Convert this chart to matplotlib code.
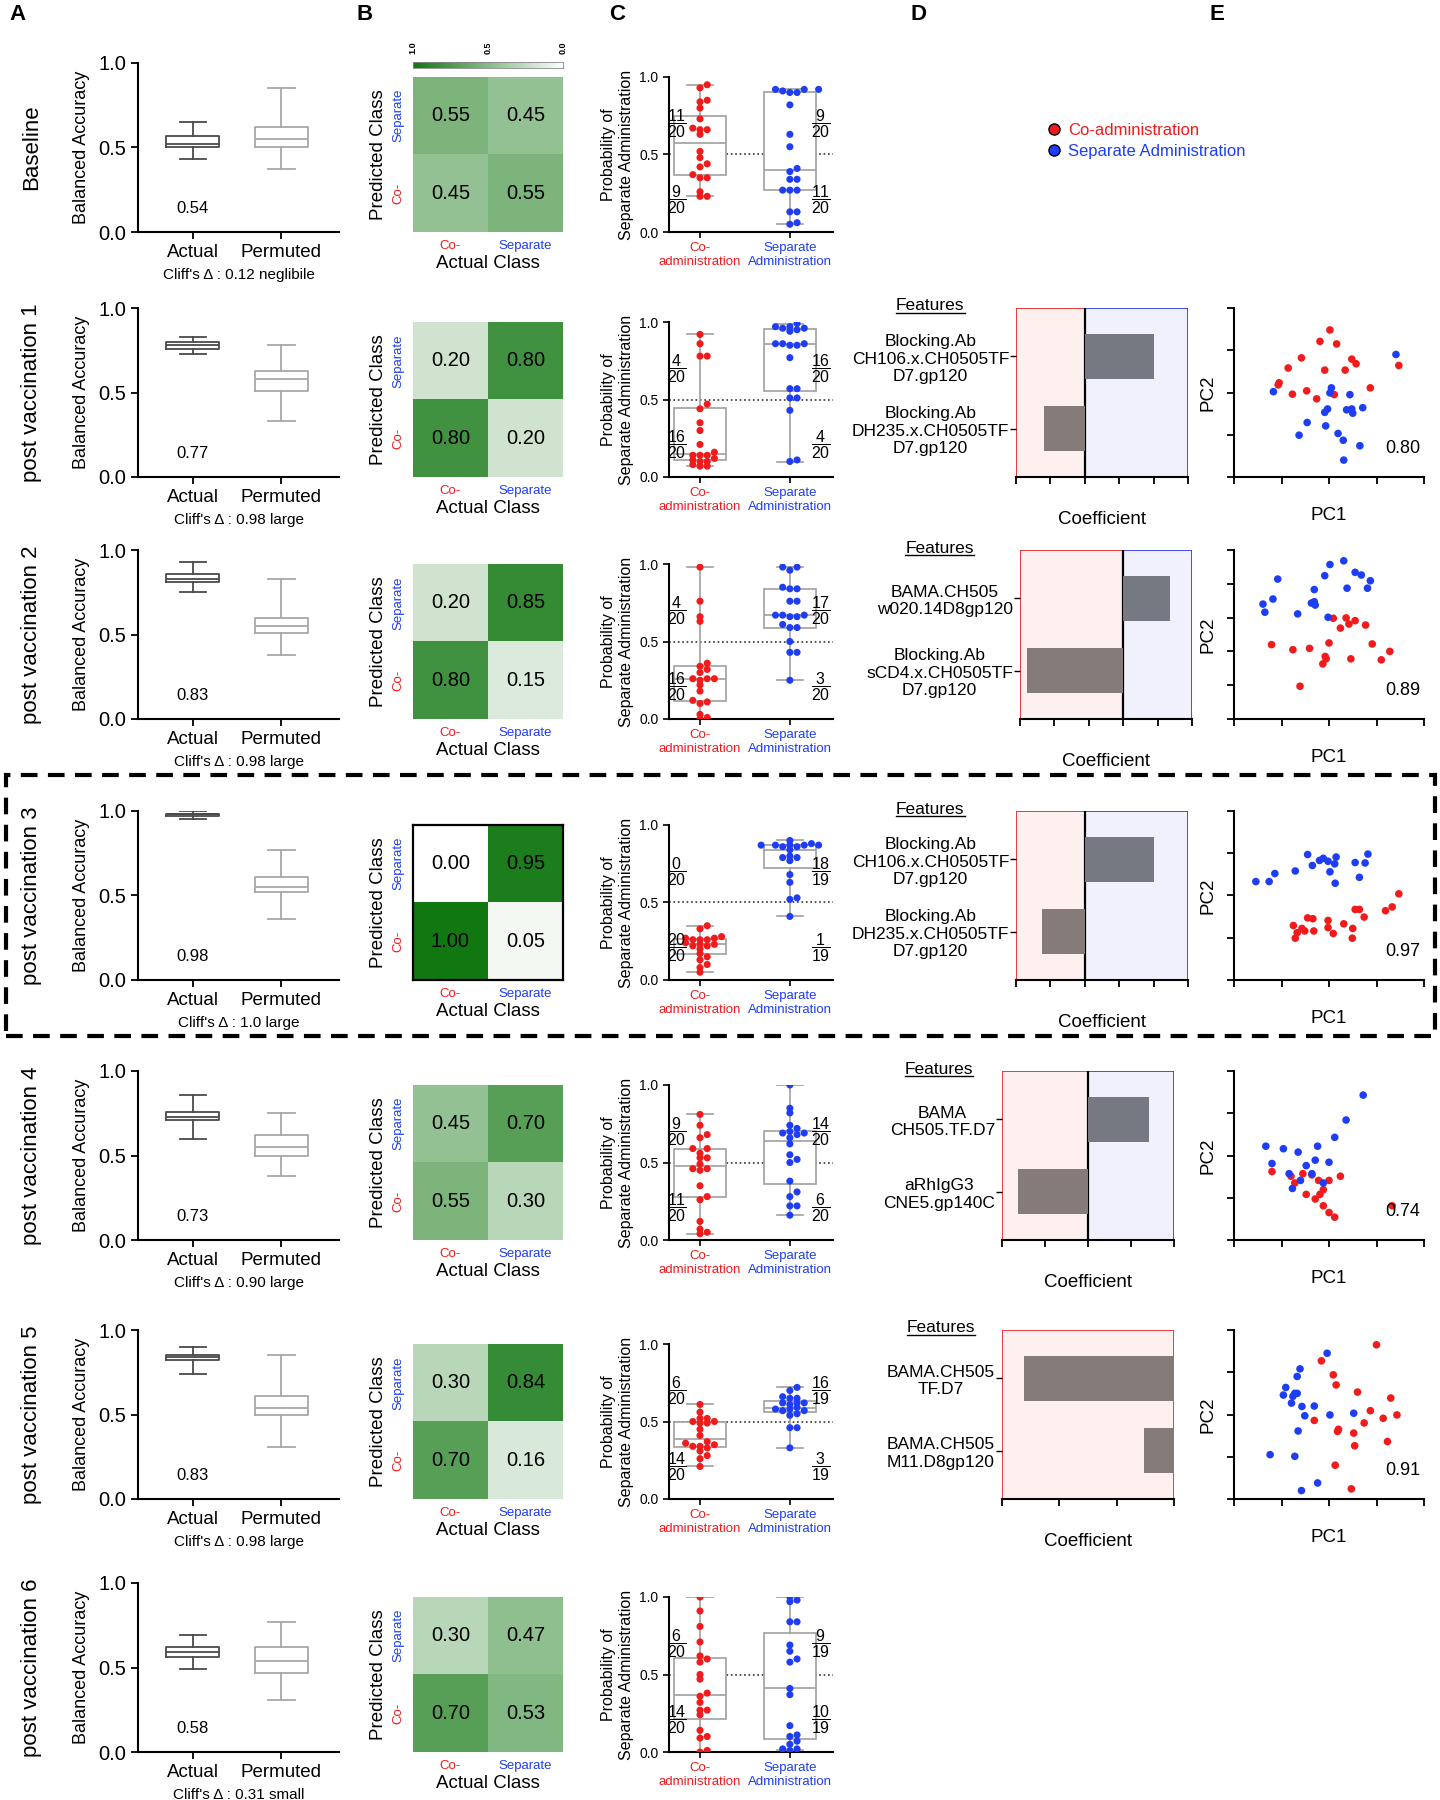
import numpy as np
import matplotlib
matplotlib.use('Agg')
import matplotlib.pyplot as plt
from matplotlib.colors import LinearSegmentedColormap
from matplotlib.lines import Line2D
from matplotlib.patches import Rectangle

plt.rcParams['font.family'] = ['Liberation Sans', 'DejaVu Sans']
plt.rcParams['mathtext.fontset'] = 'custom'
plt.rcParams['mathtext.rm'] = 'Liberation Sans'
plt.rcParams['mathtext.default'] = 'regular'

RED = '#f21b1b'
BLUE = '#1e3ef5'

# ---------------- data ----------------
row_names = ['Baseline', 'post vaccination 1', 'post vaccination 2', 'post vaccination 3',
             'post vaccination 4', 'post vaccination 5', 'post vaccination 6']

# A: balanced accuracy boxes (whislo, q1, med, q3, whishi)
actual_box = [(0.43, 0.50, 0.52, 0.57, 0.65),
              (0.73, 0.76, 0.78, 0.80, 0.83),
              (0.75, 0.81, 0.83, 0.86, 0.93),
              (0.95, 0.97, 0.98, 0.98, 1.00),
              (0.60, 0.71, 0.73, 0.76, 0.86),
              (0.74, 0.82, 0.84, 0.85, 0.90),
              (0.49, 0.56, 0.59, 0.62, 0.69)]
permuted_box = [(0.37, 0.50, 0.55, 0.62, 0.85),
                (0.33, 0.51, 0.58, 0.63, 0.78),
                (0.38, 0.51, 0.55, 0.60, 0.83),
                (0.36, 0.52, 0.55, 0.61, 0.77),
                (0.38, 0.50, 0.55, 0.62, 0.75),
                (0.31, 0.50, 0.54, 0.61, 0.85),
                (0.31, 0.47, 0.54, 0.62, 0.77)]
median_text = ['0.54', '0.77', '0.83', '0.98', '0.73', '0.83', '0.58']
cliffs = ['0.12 neglibile', '0.98 large', '0.98 large', '1.0 large', '0.90 large', '0.98 large', '0.31 small']

# B: confusion matrices, rows = predicted (Separate, Co-), cols = actual (Co-, Separate)
conf = [[[0.55, 0.45], [0.45, 0.55]],
        [[0.20, 0.80], [0.80, 0.20]],
        [[0.20, 0.85], [0.80, 0.15]],
        [[0.00, 0.95], [1.00, 0.05]],
        [[0.45, 0.70], [0.55, 0.30]],
        [[0.30, 0.84], [0.70, 0.16]],
        [[0.30, 0.47], [0.70, 0.53]]]

# C: probability of separate administration
co_probs = [
    [0.95, 0.93, 0.85, 0.84, 0.80, 0.73, 0.67, 0.66, 0.66, 0.63, 0.52, 0.48, 0.44, 0.42, 0.37, 0.35, 0.35, 0.26, 0.23, 0.23],
    [0.92, 0.86, 0.78, 0.78, 0.47, 0.44, 0.35, 0.30, 0.21, 0.16, 0.14, 0.14, 0.14, 0.12, 0.11, 0.10, 0.10, 0.08, 0.07, 0.07],
    [0.98, 0.76, 0.66, 0.63, 0.36, 0.34, 0.32, 0.30, 0.26, 0.26, 0.26, 0.25, 0.22, 0.18, 0.12, 0.11, 0.10, 0.03, 0.01, 0.00],
    [0.35, 0.33, 0.28, 0.27, 0.27, 0.26, 0.26, 0.26, 0.24, 0.23, 0.23, 0.22, 0.22, 0.20, 0.17, 0.15, 0.13, 0.10, 0.08, 0.05],
    [0.81, 0.74, 0.68, 0.66, 0.59, 0.59, 0.56, 0.53, 0.53, 0.49, 0.46, 0.46, 0.45, 0.35, 0.28, 0.26, 0.12, 0.07, 0.05, 0.04],
    [0.61, 0.56, 0.52, 0.52, 0.50, 0.50, 0.49, 0.49, 0.45, 0.41, 0.37, 0.36, 0.35, 0.34, 0.34, 0.33, 0.31, 0.28, 0.26, 0.21],
    [1.00, 0.91, 0.81, 0.71, 0.62, 0.60, 0.58, 0.50, 0.47, 0.38, 0.36, 0.32, 0.27, 0.27, 0.24, 0.14, 0.10, 0.09, 0.01, 0.00],
]
sep_probs = [
    [0.92, 0.92, 0.92, 0.91, 0.90, 0.90, 0.82, 0.63, 0.55, 0.41, 0.39, 0.34, 0.34, 0.27, 0.27, 0.27, 0.13, 0.13, 0.06, 0.05],
    [0.99, 0.97, 0.97, 0.96, 0.96, 0.95, 0.94, 0.86, 0.86, 0.86, 0.85, 0.85, 0.77, 0.57, 0.57, 0.51, 0.51, 0.43, 0.11, 0.10],
    [0.98, 0.98, 0.96, 0.85, 0.84, 0.84, 0.76, 0.76, 0.67, 0.67, 0.67, 0.66, 0.66, 0.61, 0.59, 0.59, 0.50, 0.43, 0.43, 0.25],
    [0.90, 0.88, 0.87, 0.87, 0.87, 0.87, 0.87, 0.86, 0.86, 0.84, 0.80, 0.79, 0.79, 0.77, 0.68, 0.63, 0.53, 0.52, 0.41],
    [1.00, 0.85, 0.82, 0.74, 0.72, 0.70, 0.69, 0.69, 0.68, 0.66, 0.62, 0.55, 0.52, 0.50, 0.38, 0.31, 0.28, 0.22, 0.22, 0.16],
    [0.72, 0.70, 0.66, 0.65, 0.65, 0.62, 0.62, 0.62, 0.61, 0.59, 0.58, 0.58, 0.57, 0.57, 0.55, 0.54, 0.46, 0.46, 0.33],
    [1.00, 0.98, 0.97, 0.84, 0.84, 0.69, 0.65, 0.60, 0.58, 0.41, 0.37, 0.17, 0.11, 0.10, 0.07, 0.05, 0.02, 0.02, 0.01],
]
# fractions: (top numerator, top denominator, bottom numerator, bottom denominator)
co_frac = [('11', '20', '9', '20'), ('4', '20', '16', '20'), ('4', '20', '16', '20'), ('0', '20', '20', '20'),
           ('9', '20', '11', '20'), ('6', '20', '14', '20'), ('6', '20', '14', '20')]
sep_frac = [('9', '20', '11', '20'), ('16', '20', '4', '20'), ('17', '20', '3', '20'), ('18', '19', '1', '19'),
            ('14', '20', '6', '20'), ('16', '19', '3', '19'), ('9', '19', '10', '19')]

# D: top features and coefficients (rows 1-5)
feat_top = ['Blocking.Ab\nCH106.x.CH0505TF\nD7.gp120', 'BAMA.CH505\nw020.14D8gp120',
            'Blocking.Ab\nCH106.x.CH0505TF\nD7.gp120', 'BAMA\nCH505.TF.D7', 'BAMA.CH505\nTF.D7']
feat_bottom = ['Blocking.Ab\nDH235.x.CH0505TF\nD7.gp120', 'Blocking.Ab\nsCD4.x.CH0505TF\nD7.gp120',
               'Blocking.Ab\nDH235.x.CH0505TF\nD7.gp120', 'aRhIgG3\nCNE5.gp140C', 'BAMA.CH505\nM11.D8gp120']
coef_top = [2.0, 1.37, 2.0, 1.43, -2.62]
coef_bottom = [-1.2, -2.79, -1.24, -1.63, -0.53]
coef_lim = [(-2, 3), (-3, 2), (-2, 3), (-2, 2), (-3, 0)]

# E: PCA scores (PC1, PC2)
pc_co = [
    np.array([(2.02, 3.48), (1.81, 3.21), (2.16, 3.15), (1.42, 2.82), (2.48, 2.79), (2.57, 2.68), (1.14, 2.58),
              (1.91, 2.53), (2.34, 2.53), (3.47, 2.64), (0.95, 2.23), (0.93, 2.18), (2.87, 2.11), (1.53, 2.04),
              (1.23, 1.96), (1.74, 1.85), (2.11, 1.95)]),
    np.array([(2.09, 2.98), (2.36, 2.99), (2.55, 2.91), (2.42, 2.81), (2.77, 2.78), (2.24, 2.69), (0.79, 2.20),
              (1.24, 2.05), (1.59, 2.09), (2.00, 2.25), (2.91, 2.22), (3.28, 2.00), (3.10, 1.75), (1.92, 1.85),
              (1.94, 1.78), (1.87, 1.63), (2.46, 1.78), (1.39, 0.97)]),
    np.array([(3.47, 2.04), (3.33, 1.73), (3.19, 1.64), (2.55, 1.67), (2.64, 1.67), (2.74, 1.49), (1.55, 1.47),
              (1.66, 1.45), (1.98, 1.41), (2.31, 1.33), (1.25, 1.29), (1.43, 1.22), (1.49, 1.16), (1.68, 1.16),
              (1.98, 1.24), (1.33, 1.12), (1.29, 0.99), (2.09, 1.10), (2.50, 1.22), (2.49, 0.99)]),
    np.array([(0.80, 1.62), (1.20, 1.51), (1.45, 1.57), (1.64, 1.54), (1.78, 1.41), (2.00, 1.41), (2.24, 1.51),
              (1.52, 1.08), (1.71, 0.97), (1.88, 0.81), (2.00, 0.65), (2.12, 0.54), (3.33, 0.81), (1.81, 1.08),
              (1.28, 1.35), (1.88, 1.19)]),
    np.array([(3.00, 3.65), (1.84, 3.27), (2.09, 2.94), (2.15, 2.70), (2.60, 2.53), (3.30, 2.39), (2.87, 2.09),
              (3.43, 1.99), (3.14, 1.91), (2.74, 1.80), (1.69, 1.86), (2.20, 1.65), (2.18, 1.60), (2.52, 1.56),
              (3.23, 1.36), (2.54, 1.26), (2.13, 0.80), (2.47, 0.24)]),
]
pc_sep = [
    np.array([(3.41, 2.90), (0.83, 2.02), (2.05, 2.11), (2.02, 1.99), (2.44, 1.95), (1.97, 1.61), (1.91, 1.53),
              (2.37, 1.59), (2.48, 1.61), (2.50, 1.51), (2.71, 1.64), (1.54, 1.29), (1.93, 1.21), (1.37, 0.99),
              (2.19, 1.03), (2.30, 0.87), (2.65, 0.74), (2.31, 0.40)]),
    np.array([(2.31, 4.68), (2.02, 4.57), (2.55, 4.34), (2.68, 4.26), (2.87, 4.09), (1.91, 4.24), (0.92, 4.14),
              (1.69, 3.83), (2.38, 3.87), (2.81, 3.87), (0.82, 3.55), (0.61, 3.40), (0.65, 3.16), (1.63, 3.43),
              (1.69, 3.47), (1.71, 3.37), (1.34, 3.11), (1.98, 3.01)]),
    np.array([(1.55, 2.97), (1.80, 2.83), (1.88, 2.88), (1.98, 2.81), (2.15, 2.91), (2.12, 2.75), (2.82, 2.98),
              (2.76, 2.77), (2.55, 2.78), (1.65, 2.71), (1.29, 2.58), (0.86, 2.52), (0.74, 2.33), (0.46, 2.33),
              (2.02, 2.56), (2.13, 2.29), (2.64, 2.43)]),
    np.array([(2.72, 3.43), (2.36, 2.84), (2.12, 2.43), (0.67, 2.22), (1.04, 2.16), (1.35, 2.08), (1.76, 2.22),
              (1.52, 1.76), (1.16, 1.57), (1.64, 1.57), (1.88, 1.35), (1.23, 1.22), (1.71, 1.89), (0.80, 1.81),
              (2.00, 1.84), (1.40, 1.41)]),
    np.array([(1.96, 3.45), (1.39, 3.08), (1.33, 2.90), (1.09, 2.64), (1.04, 2.46), (1.28, 2.50), (1.33, 2.50),
              (1.24, 2.43), (1.21, 2.27), (1.43, 2.19), (1.69, 2.20), (1.49, 1.97), (2.02, 1.99), (2.52, 2.03),
              (1.35, 1.61), (0.76, 1.05), (1.28, 1.01), (1.76, 0.38), (1.42, 0.20)]),
]
pc_ylim = [4, 5, 4, 4, 4]
pc_score = ['0.80', '0.89', '0.97', '0.74', '0.91']

# ---------------- layout ----------------
W, H = 1440, 1800
fig = plt.figure(figsize=(14.4, 18), dpi=100)


def px_axes(left, top, width, height):
    return fig.add_axes([left / W, 1 - (top + height) / H, width / W, height / H])


row_top = [63, 308, 550, 811, 1071, 1330, 1583]
row_h = 169
inner_h = 155
d_left = [1016, 1020, 1016, 1002, 1002]

cmap = LinearSegmentedColormap.from_list('gr', ['#ffffff', '#117711'])


def swarm(vals, dx, dy):
    vals = np.asarray(vals)
    offs = np.zeros(len(vals))
    placed = []
    cands = [0.0]
    for n in range(1, 8):
        cands += [n * dx, -n * dx]
    for i in np.argsort(vals):
        y = vals[i]
        for c in cands:
            if all(((c - px) / dx) ** 2 + ((y - py) / dy) ** 2 >= 1 for px, py in placed):
                break
        offs[i] = c
        placed.append((c, y))
    return offs


def style_lb(ax):
    for s in ['top', 'right']:
        ax.spines[s].set_visible(False)
    for s in ['left', 'bottom']:
        ax.spines[s].set_linewidth(1.5)
    ax.tick_params(width=1.3, length=5)


d_axes = []
for r in range(7):
    top = row_top[r]
    bot = top + row_h

    # row label
    fig.text(32 / W, 1 - (top + row_h / 2) / H, row_names[r], rotation=90,
             ha='center', va='center', fontsize=16)

    # ---- A ----
    ax = px_axes(138, top, 201, row_h)
    for stats, col, pos in [(actual_box[r], '#4a4a4a', 0), (permuted_box[r], '#a8a8a8', 1)]:
        lo, q1, med, q3, hi = stats
        ax.bxp([{'whislo': lo, 'q1': q1, 'med': med, 'q3': q3, 'whishi': hi, 'fliers': []}],
               positions=[pos], widths=0.6, showfliers=False,
               boxprops=dict(color=col, lw=1.3), medianprops=dict(color=col, lw=1.3),
               whiskerprops=dict(color=col, lw=1.3), capprops=dict(color=col, lw=1.3))
    ax.set_xlim(-0.62, 1.65)
    ax.set_ylim(0, 1)
    ax.set_yticks([0, 0.5, 1.0])
    ax.set_yticklabels(['0.0', '0.5', '1.0'], fontsize=14.5)
    ax.set_xticks([0, 1])
    ax.set_xticklabels(['Actual', 'Permuted'], fontsize=13.5)
    ax.set_ylabel('Balanced Accuracy', fontsize=13, labelpad=6)
    style_lb(ax)
    ax.text(0, 0.14, median_text[r], ha='center', va='center', fontsize=12)
    ax.text(0.5, -0.255, "Cliff's \u0394 : " + cliffs[r], transform=ax.transAxes,
            ha='center', va='center', fontsize=11)

    # ---- B ----
    ax = px_axes(413, bot - inner_h, 150, inner_h)
    m = np.array(conf[r])
    ax.imshow(m, cmap=cmap, vmin=0, vmax=1, aspect='auto')
    for i in range(2):
        for j in range(2):
            ax.text(j, i, f'{m[i, j]:.2f}', ha='center', va='center', fontsize=14.5)
    ax.set_xticks([0, 1])
    ax.set_xticklabels(['Co-', 'Separate'], fontsize=9.5)
    for lbl, c in zip(ax.get_xticklabels(), [RED, BLUE]):
        lbl.set_color(c)
    ax.set_yticks([0, 1])
    ax.set_yticklabels(['Separate', 'Co-'], fontsize=9.5, rotation=90, va='center')
    for lbl, c in zip(ax.get_yticklabels(), [BLUE, RED]):
        lbl.set_color(c)
    ax.tick_params(length=0, pad=6)
    ax.set_xlabel('Actual Class', fontsize=13.5, labelpad=2)
    ax.set_ylabel('Predicted Class', fontsize=13.5, labelpad=4)
    for s in ax.spines.values():
        s.set_visible(r == 3)
        s.set_linewidth(1.6)

    if r == 0:
        cax = px_axes(413, 62, 150, 6)
        cax.imshow(np.linspace(1, 0, 256)[None, :], cmap=cmap, vmin=0, vmax=1,
                   aspect='auto', extent=(0, 1, 0, 1))
        cax.set_yticks([])
        cax.set_xticks([0, 0.5, 1])
        cax.set_xticklabels(['1.0', '0.5', '0.0'], rotation=90, fontsize=6.5, fontweight='bold')
        cax.xaxis.tick_top()
        cax.tick_params(length=0, pad=6)
        for s in cax.spines.values():
            s.set_color('#888888')
            s.set_linewidth(0.6)

    # ---- C ----
    ax = px_axes(669, bot - inner_h, 164, inner_h)
    ax.axhline(0.5, ls=':', color='#333333', lw=1.2, zorder=1)
    ax.boxplot([co_probs[r], sep_probs[r]], positions=[0, 1], widths=0.58, whis=(0, 100),
               showfliers=False, patch_artist=True,
               boxprops=dict(facecolor='white', edgecolor='#a0a0a0', lw=1.2),
               medianprops=dict(color='#a0a0a0', lw=1.2),
               whiskerprops=dict(color='#a0a0a0', lw=1.2),
               capprops=dict(color='#a0a0a0', lw=1.2), zorder=2)
    for pos, vals, col in [(0, co_probs[r], RED), (1, sep_probs[r], BLUE)]:
        offs = swarm(vals, 0.08, 0.03)
        ax.scatter(pos + offs, vals, s=26, color=col, edgecolors='none', zorder=3)
    for xpos, fr in [(-0.255, co_frac[r]), (1.35, sep_frac[r])]:
        ax.text(xpos, 0.70, r'$\dfrac{%s}{%s}$' % (fr[0], fr[1]), ha='center', va='center', fontsize=11.5)
        ax.text(xpos, 0.21, r'$\dfrac{%s}{%s}$' % (fr[2], fr[3]), ha='center', va='center', fontsize=11.5)
    ax.set_xlim(-0.345, 1.48)
    ax.set_ylim(0, 1.0)
    ax.set_yticks([0, 0.5, 1.0])
    ax.set_yticklabels(['0.0', '0.5', '1.0'], fontsize=10)
    ax.set_xticks([0, 1])
    ax.set_xticklabels(['Co-\nadministration', 'Separate\nAdministration'], fontsize=9.5)
    for lbl, c in zip(ax.get_xticklabels(), [RED, BLUE]):
        lbl.set_color(c)
    ax.set_ylabel('Probability of\nSeparate Administration', fontsize=11.5, labelpad=4)
    style_lb(ax)
    ax.tick_params(length=4, width=1.2)

    if r == 0 or r == 6:
        continue
    k = r - 1

    # ---- D ----
    ax = px_axes(d_left[k], top, 172, row_h)
    lo, hi = coef_lim[k]
    if lo < 0:
        ax.axvspan(lo, 0, facecolor='#fff0f0', edgecolor='#e23030', lw=1.3, zorder=0)
    if hi > 0:
        ax.axvspan(0, hi, facecolor='#f1f1fd', edgecolor='#3344e6', lw=1.3, zorder=0)
    if lo < 0 < hi:
        ax.axvline(0, color='black', lw=1.6, zorder=1)
    vals = [coef_top[k], coef_bottom[k]]
    ax.barh([1, 0], vals, height=0.62, zorder=2,
            color=['#767882' if v > 0 else '#857b78' for v in vals])
    ax.set_xlim(lo, hi)
    ax.set_ylim(-0.67, 1.67)
    ax.set_xticks(np.arange(lo, hi + 1))
    ax.set_xticklabels([])
    ax.set_yticks([1, 0])
    ax.set_yticklabels([feat_top[k], feat_bottom[k]], fontsize=12.5, multialignment='center')
    for s in ['top', 'right', 'left']:
        ax.spines[s].set_visible(False)
    ax.spines['bottom'].set_linewidth(1.5)
    ax.tick_params(axis='x', length=5, width=1.3)
    ax.tick_params(axis='y', length=4, width=1.0, pad=1)
    ax.set_xlabel('Coefficient', fontsize=13.5, labelpad=16)
    d_axes.append(ax)

    # ---- E ----
    ax = px_axes(1234, top, 190, row_h)
    ax.scatter(pc_co[k][:, 0], pc_co[k][:, 1], s=30, color=RED, edgecolors='none')
    ax.scatter(pc_sep[k][:, 0], pc_sep[k][:, 1], s=30, color=BLUE, edgecolors='none')
    ax.set_xlim(0, 4)
    ax.set_ylim(0, pc_ylim[k])
    ax.set_xticks(np.arange(0, 5))
    ax.set_yticks(np.arange(0, pc_ylim[k] + 1))
    ax.set_xticklabels([])
    ax.set_yticklabels([])
    style_lb(ax)
    ax.set_xlabel('PC1', fontsize=13.5, labelpad=13)
    ax.set_ylabel('PC2', fontsize=13.5, labelpad=4)
    ax.text(0.98, 0.17, pc_score[k], transform=ax.transAxes, ha='right', va='center', fontsize=13)

# panel letters
for lt, x in zip('ABCDE', [17, 365, 617, 919, 1217]):
    fig.text(x / W, 1 - 14 / H, lt, fontsize=16, fontweight='bold', ha='center', va='center')

# legend
handles = [Line2D([], [], ls='', marker='o', markersize=8, markerfacecolor=RED, markeredgecolor='black'),
           Line2D([], [], ls='', marker='o', markersize=8, markerfacecolor=BLUE, markeredgecolor='black')]
fig.legend(handles, ['Co-administration', 'Separate Administration'], loc='center left',
           bbox_to_anchor=(1031 / W, 1 - 141 / H), frameon=False, fontsize=12,
           labelcolor=[RED, BLUE], handletextpad=0.3, labelspacing=0.35, handlelength=1.0)

# dashed box around post vaccination 3
fig.add_artist(Rectangle((6 / W, 1 - 1036 / H), 1429 / W, 261 / H, transform=fig.transFigure,
                         fill=False, ec='black', lw=3, ls=(0, (4, 2.5))))

# "Features" headers, underlined
fig.canvas.draw()
rend = fig.canvas.get_renderer()
for ax in d_axes:
    bbs = [t.get_window_extent(rend) for t in ax.get_yticklabels()]
    xc = (min(b.x0 for b in bbs) + max(b.x1 for b in bbs)) / 2
    ytop = ax.get_position().y1
    t = fig.text(xc / W, ytop + 2 / H, 'Features', ha='center', va='center', fontsize=12.5)
    bb = t.get_window_extent(rend)
    fig.add_artist(Line2D([bb.x0 / W, bb.x1 / W], [(bb.y0 + 1) / H] * 2, color='black', lw=1.0))

fig.savefig('out.png', dpi=100)
